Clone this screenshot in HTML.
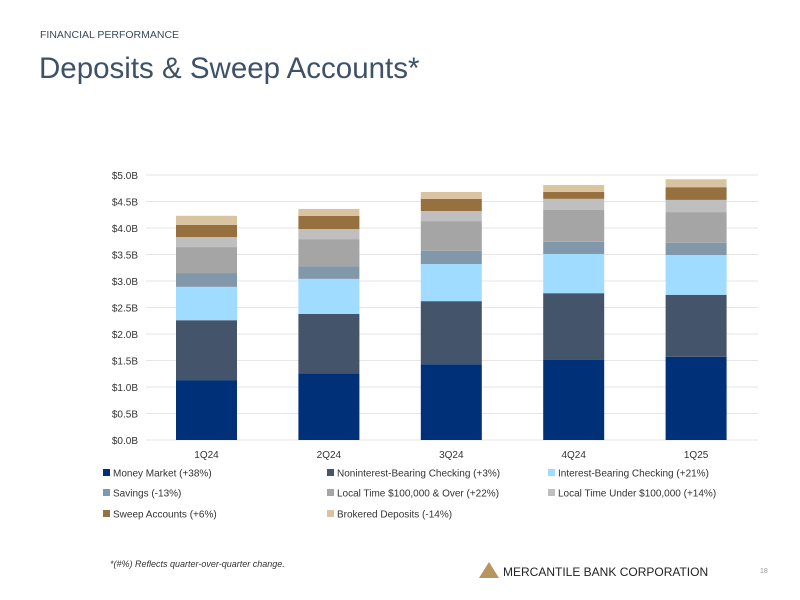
<!DOCTYPE html>
<html><head><meta charset="utf-8"><style>
body{margin:0;width:800px;height:600px;background:#fff;font-family:"Liberation Sans",sans-serif;position:relative;overflow:hidden}
.abs{position:absolute}
</style></head><body>
<div class="abs" style="left:40px;top:29px;font-size:10.5px;color:#3a4a5c">FINANCIAL PERFORMANCE</div>
<div class="abs" style="left:39px;top:52px;font-size:29.5px;color:#3d5168">Deposits &amp; Sweep Accounts*</div>
<svg id="chart" class="abs" style="left:0;top:0" width="800" height="600"></svg>
<div class="abs" style="left:110px;top:559px;font-size:9px;font-style:italic;color:#333">*(#%) Reflects quarter-over-quarter change.</div>
<svg class="abs" style="left:479px;top:562px" width="20" height="16"><polygon points="0,16 10,0 20,16" fill="#b8955f"/></svg>
<div class="abs" style="left:503px;top:565px;font-size:12px;color:#222">MERCANTILE BANK CORPORATION</div>
<div class="abs" style="left:760px;top:568px;font-size:7px;color:#999">18</div>
<script>
const categories=["1Q24","2Q24","3Q24","4Q24","1Q25"];
const seriesNames=["Money Market (+38%)","Noninterest-Bearing Checking (+3%)","Interest-Bearing Checking (+21%)","Savings (-13%)","Local Time $100,000 & Over (+22%)","Local Time Under $100,000 (+14%)","Sweep Accounts (+6%)","Brokered Deposits (-14%)"];
const moneyMarket=[1.13,1.26,1.43,1.51,1.57];
const nonIntChecking=[1.13,1.12,1.19,1.26,1.17];
const intChecking=[0.63,0.66,0.70,0.74,0.75];
const savings=[0.26,0.24,0.25,0.23,0.23];
const localTimeOver=[0.49,0.51,0.56,0.60,0.58];
const localTimeUnder=[0.19,0.19,0.19,0.21,0.23];
const sweep=[0.23,0.25,0.23,0.13,0.24];
const brokered=[0.17,0.13,0.13,0.13,0.15];
const tickValues=[0,0.5,1,1.5,2,2.5,3,3.5,4,4.5,5];
const colors=["#003178","#44546a","#a0dcff","#8197aa","#a5a5a5","#bfbfbf","#96703f","#d9c3a1"];
const series=[moneyMarket,nonIntChecking,intChecking,savings,localTimeOver,localTimeUnder,sweep,brokered];
const svg=document.getElementById('chart');const NS="http://www.w3.org/2000/svg";
const y0=440,pxPerB=53,x0=146,x1=758,band=122.4,bw=61;
const yS=v=>y0-v*pxPerB;const xC=i=>x0+band*(i+0.5)-0.7;
function mk(t,a){const e=document.createElementNS(NS,t);for(const k in a)e.setAttribute(k,a[k]);svg.appendChild(e);return e;}
tickValues.forEach(v=>{const g=mk('line',{x1:x0,x2:x1,y1:yS(v),y2:yS(v),stroke:'#e6e6e6','stroke-width':1});


const t=mk('text',{x:138,y:yS(v)+4,'text-anchor':'end','font-size':10,fill:'#333','font-family':'Liberation Sans'});t.textContent='$'+v.toFixed(1)+'B';

});
categories.forEach((c,i)=>{let cum=0;series.forEach((s,j)=>{const r=mk('rect',{x:xC(i)-bw/2,y:yS(cum+s[i]),width:bw,height:s[i]*pxPerB,fill:colors[j]});

cum+=s[i];});
const t=mk('text',{x:xC(i),y:458,'text-anchor':'middle','font-size':10,fill:'#333','font-family':'Liberation Sans'});t.textContent=c;

});
const lx=[103,327,548],ly=[475,495,516];
seriesNames.forEach((n,j)=>{const x=lx[j%3],y=ly[Math.floor(j/3)];
const r=mk('rect',{x:x,y:y-6,width:7,height:7,fill:colors[j]});


const t=mk('text',{x:x+10,y:y+1.5,'font-size':10,fill:'#333','font-family':'Liberation Sans'});t.textContent=n;

});
</script>
</body></html>
